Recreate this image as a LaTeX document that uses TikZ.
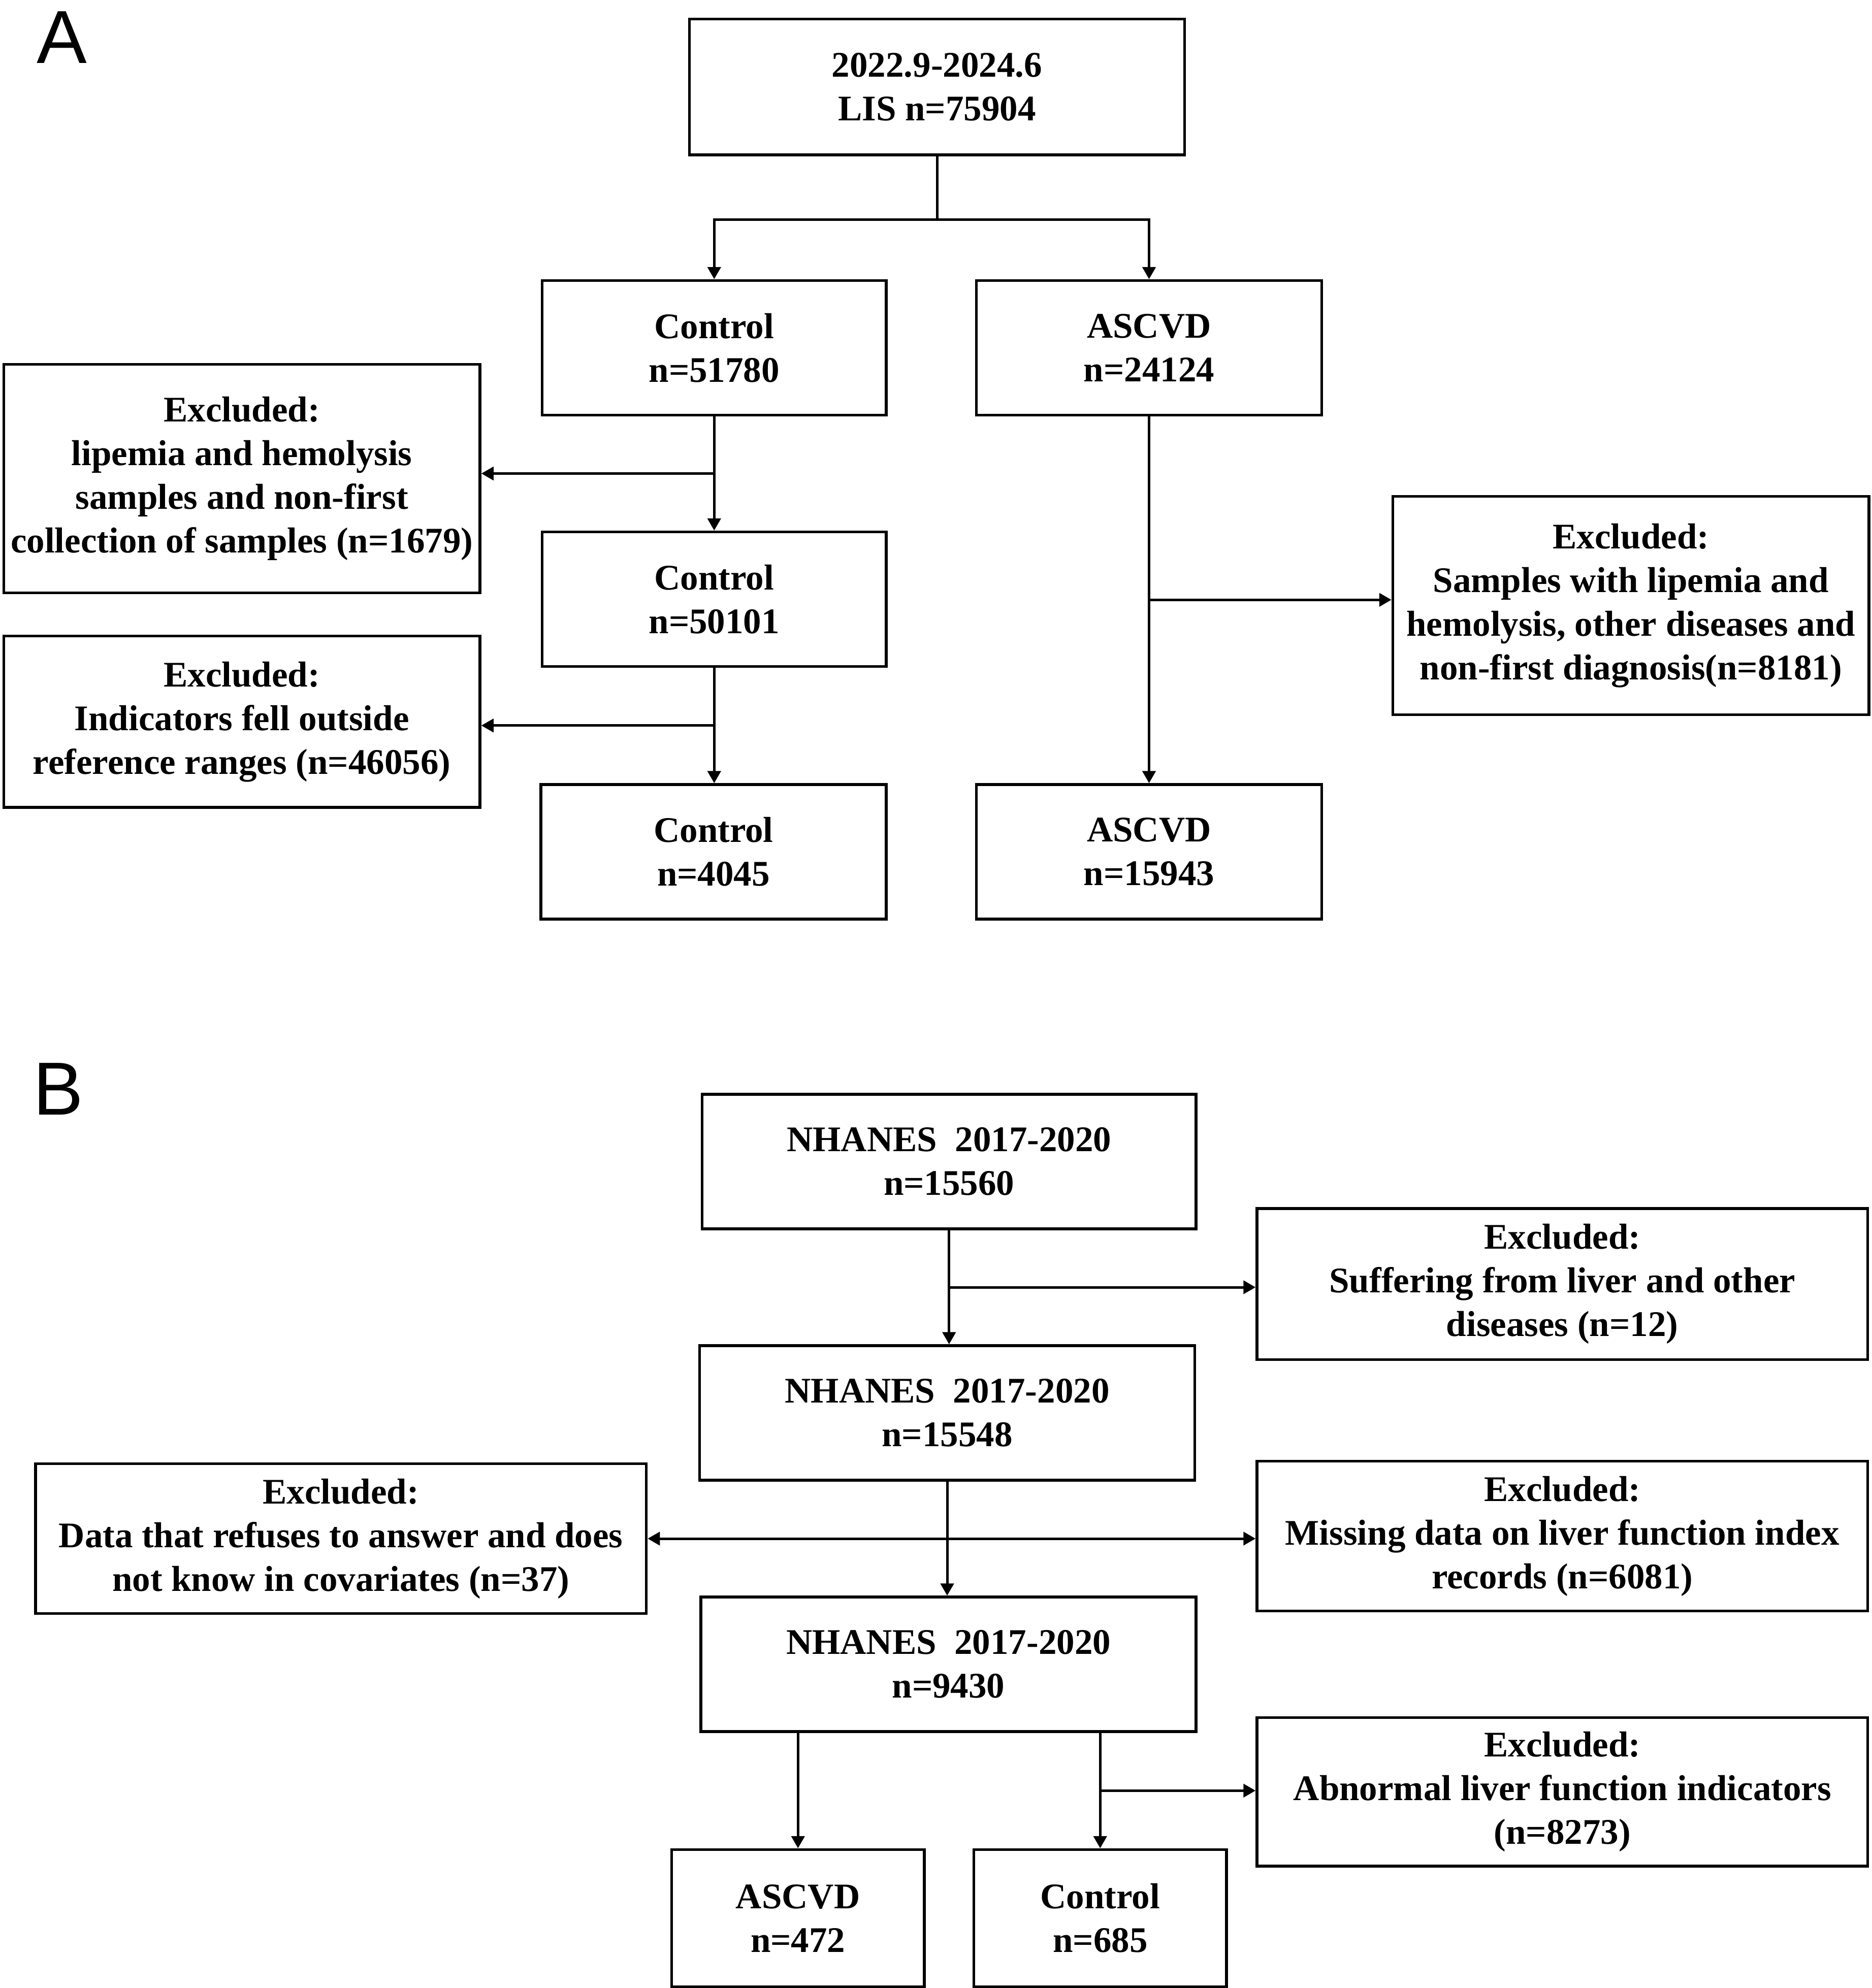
\documentclass[tikz,border=0pt]{standalone}
\usepackage{fontspec}
\setmainfont{Liberation Serif}
\newfontfamily\labelfont{Liberation Sans}
\usetikzlibrary{arrows.meta,calc}
\begin{document}
\begin{tikzpicture}[x=2.5pt,y=-2.5pt,
  bx/.style n args={2}{draw, line width=5.5pt, minimum width=#1*2.5pt, minimum height=#2*2.5pt, inner sep=0pt, align=center, font=\fontsize{71}{86}\selectfont\bfseries},
  ln/.style={line width=5pt},
  arr/.style={ln,-{Triangle[width=26pt,length=24pt]}},
  darr/.style={ln,{Triangle[width=26pt,length=24pt]}-{Triangle[width=26pt,length=24pt]}},
  lbl/.style={anchor=base west, inner sep=0pt, font=\fontsize{148}{160}\labelfont}]
\useasboundingbox (0,0) rectangle (1474,1566);

% ---------- Panel A ----------
\node[lbl] (LA) at (29,50) {A};
\node[bx={390}{107}] (t) at (738,68.5) {2022.9-2024.6\\LIS n=75904};
\node[bx={271}{106}] (c1) at (562.5,274) {Control\\n=51780};
\node[bx={272}{106}] (a1) at (905,274) {ASCVD\\n=24124};
\node[bx={375}{180}] (e1) at (190.5,377) {Excluded:\\lipemia and hemolysis\\samples and non-first\\collection of samples (n=1679)};
\node[bx={271}{106}] (c2) at (562.5,472) {Control\\n=50101};
\node[bx={375}{135}] (e2) at (190.5,568.5) {Excluded:\\Indicators fell outside\\reference ranges (n=46056)};
\node[bx={272}{106}] (c3) at (562,671) {Control\\n=4045};
\node[bx={375}{172}] (e3) at (1284.5,477) {Excluded:\\Samples with lipemia and\\hemolysis, other diseases and\\non-first diagnosis(n=8181)};
\node[bx={272}{106}] (a2) at (905,671) {ASCVD\\n=15943};

\draw[arr] (t.south) -- ++(0,50) -| (c1.north);
\draw[arr] (t.south) -- ++(0,50) -| (a1.north);
\draw[arr] (c1.south) -- (c1.south |- c2.north);
\coordinate (m1) at ($(c1.south)!0.5!(c1.south |- c2.north)$);
\draw[arr] (m1) -- (m1 -| e1.east);
\draw[arr] (c2.south) -- (c2.south |- c3.north);
\coordinate (m2) at ($(c2.south)!0.5!(c2.south |- c3.north)$);
\draw[arr] (m2) -- (m2 -| e2.east);
\draw[arr] (a1.south) -- (a1.south |- a2.north);
\coordinate (m3) at ($(a1.south)!0.5!(a1.south |- a2.north)$);
\draw[arr] (m3) -- (m3 -| e3.west);

% ---------- Panel B ----------
\node[lbl] (LB) at (26,878) {B};
\node[bx={389}{106}] (n1) at (747.5,915) {NHANES~~2017-2020\\n=15560};
\node[bx={481}{119}] (f1) at (1230.5,1011.5) {Excluded:\\Suffering from liver and other\\diseases (n=12)};
\node[bx={390}{106}] (n2) at (746,1113) {NHANES~~2017-2020\\n=15548};
\node[bx={481}{118}] (f2) at (268.5,1212) {Excluded:\\Data that refuses to answer and does\\not know in covariates (n=37)};
\node[bx={481}{118}] (f3) at (1230.5,1210) {Excluded:\\Missing data on liver function index\\records (n=6081)};
\node[bx={390}{106}] (n3) at (747,1311) {NHANES~~2017-2020\\n=9430};
\node[bx={481}{117}] (f4) at (1230.5,1411.5) {Excluded:\\Abnormal liver function indicators\\(n=8273)};
\node[bx={199}{108}] (b1) at (628.5,1511) {ASCVD\\n=472};
\node[bx={199}{108}] (b2) at (866.5,1511) {Control\\n=685};

\draw[arr] (n1.south) -- (n1.south |- n2.north);
\coordinate (k1) at ($(n1.south)!0.5!(n1.south |- n2.north)$);
\draw[arr] (k1) -- (k1 -| f1.west);
\draw[arr] (n2.south) -- (n2.south |- n3.north);
\coordinate (k2) at ($(n2.south)!0.5!(n2.south |- n3.north)$);
\draw[darr] (k2 -| f2.east) -- (k2 -| f3.west);
\draw[arr] (n3.south -| b1.north) -- (b1.north);
\draw[arr] (n3.south -| b2.north) -- (b2.north);
\coordinate (k3) at ($(n3.south -| b2.north)!0.5!(b2.north)$);
\draw[arr] (k3) -- (k3 -| f4.west);
\end{tikzpicture}
\end{document}
